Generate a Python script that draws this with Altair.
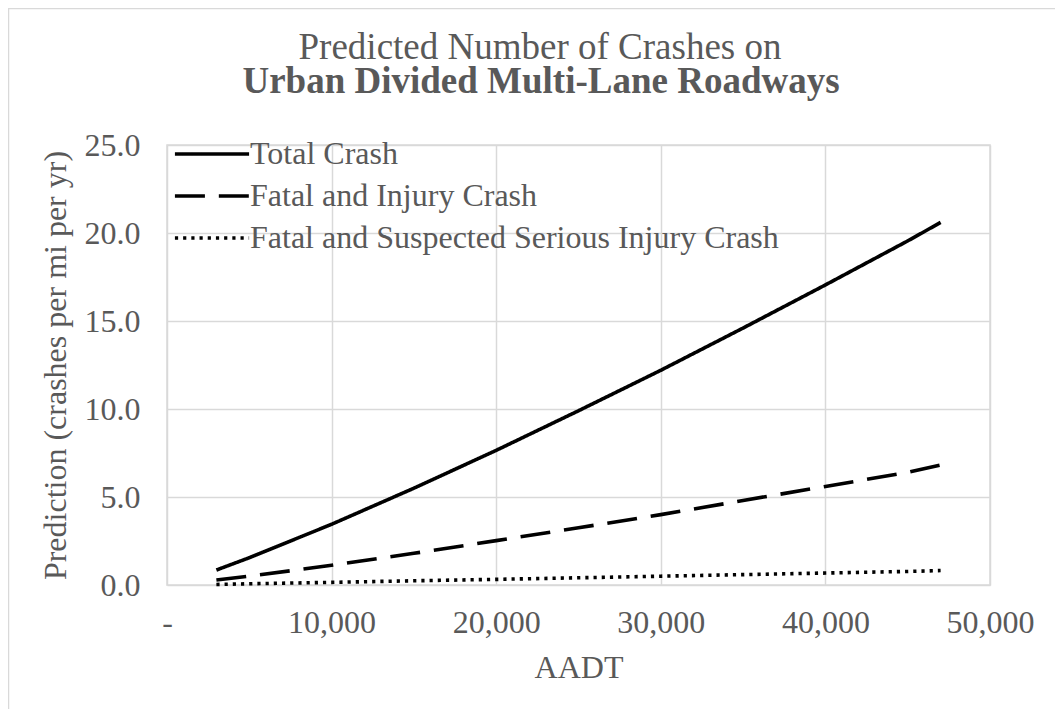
import altair as alt
import pandas as pd

# ---- data ----
aadt = [3000, 5000, 10000, 15000, 20000, 25000, 30000, 35000, 40000, 45000, 47000]
total_crash = [0.85, 1.55, 3.45, 5.5, 7.65, 9.9, 12.2, 14.6, 17.05, 19.55, 20.6]
fatal_injury = [0.28, 0.5, 1.12, 1.8, 2.52, 3.25, 4.0, 4.8, 5.6, 6.4, 6.82]
fatal_serious = [0.03, 0.07, 0.15, 0.24, 0.32, 0.41, 0.5, 0.59, 0.68, 0.77, 0.82]
series_names = ["Total Crash", "Fatal and Injury Crash",
                "Fatal and Suspected Serious Injury Crash"]
x_ticks = [0, 10000, 20000, 30000, 40000, 50000]
y_ticks = [0, 5, 10, 15, 20, 25]
title_lines = ["Predicted Number of Crashes on", "Urban Divided Multi-Lane Roadways"]

rows = []
for name, vals in zip(series_names, [total_crash, fatal_injury, fatal_serious]):
    for a, v in zip(aadt, vals):
        rows.append({"AADT": a, "Prediction": v, "Series": name})
df = pd.DataFrame(rows)

FONT = "Liberation Serif"
TEXT = "#595959"
GRID = "#d9d9d9"

one = pd.DataFrame({"k": [0]})

frame = alt.Chart(one).mark_rect(
    filled=False, stroke=GRID, strokeWidth=1.5
).encode(
    x=alt.value(-158.5), x2=alt.value(900),
    y=alt.value(-136.5), y2=alt.value(700),
)

title1 = alt.Chart(one).mark_text(
    font=FONT, fontSize=37, color=TEXT, align="center", baseline="alphabetic"
).encode(x=alt.value(373), y=alt.value(-86), text=alt.value(title_lines[0]))

title2 = alt.Chart(one).mark_text(
    font=FONT, fontSize=37, fontWeight="bold", color=TEXT, align="center",
    baseline="alphabetic"
).encode(x=alt.value(374), y=alt.value(-52), text=alt.value(title_lines[1]))

lines = alt.Chart(df).mark_line(strokeWidth=3.6, color="black", strokeCap="butt").encode(
    x=alt.X("AADT:Q",
            scale=alt.Scale(domain=[0, 50000], nice=False, zero=True),
            axis=alt.Axis(values=x_ticks, title="AADT", labelFlush=False,
                          labelExpr="datum.value == 0 ? '-\u00a0\u00a0' : format(datum.value, ',')",
                          labelPadding=22, titlePadding=14)),
    y=alt.Y("Prediction:Q",
            scale=alt.Scale(domain=[0, 25], nice=False),
            axis=alt.Axis(values=y_ticks, format=".1f",
                          title="Prediction (crashes per mi per yr)",
                          labelPadding=27, titlePadding=12)),
    strokeDash=alt.StrokeDash(
        "Series:N",
        scale=alt.Scale(domain=series_names, range=[[1, 0], [30, 13.9], [3.2, 5]]),
        legend=alt.Legend(title=None, orient="none", legendX=29, legendY=-7,
                          symbolType="M-3.5,0H3.5", symbolSize=449,
                          symbolStrokeWidth=3.6, symbolStrokeColor="black",
                          symbolFillColor="transparent",
                          labelFont=FONT, labelFontSize=32, labelColor=TEXT,
                          labelLimit=800, labelOffset=22, rowPadding=10),
    ),
    order=alt.Order("AADT:Q"),
)

chart = alt.layer(frame, title1, title2, lines).properties(
    width=823, height=440,
    autosize=alt.AutoSizeParams(type="none"),
    padding={"left": 159, "top": 137, "right": 65, "bottom": 124},
).configure_view(
    stroke=GRID, strokeWidth=1.5
).configure_axis(
    labelFont=FONT, labelFontSize=32, labelColor=TEXT,
    titleFont=FONT, titleFontSize=32, titleColor=TEXT, titleFontWeight="normal",
    grid=True, gridColor=GRID, gridWidth=1.5, domain=False, ticks=False,
)

chart.save("out.html", embed_options={"renderer": "svg", "actions": False})
